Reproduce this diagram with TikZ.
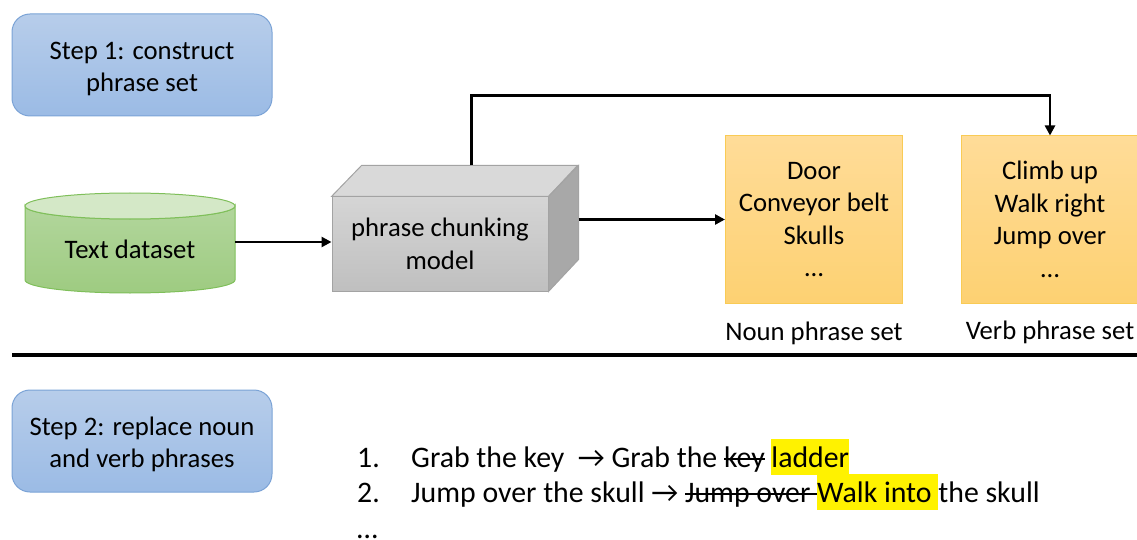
\documentclass[tikz,border=0pt]{standalone}
\usepackage{fontspec}
\setmainfont{Carlito}
\usetikzlibrary{arrows.meta,positioning,calc}

\definecolor{steptop}{HTML}{B7CDEA}
\definecolor{stepbottom}{HTML}{9BBBE5}
\definecolor{stepline}{HTML}{7BA3D6}
\definecolor{settop}{HTML}{FFDC98}
\definecolor{setbottom}{HTML}{FDD172}
\definecolor{setline}{HTML}{F9CB55}
\definecolor{cyltop}{HTML}{B2D69C}
\definecolor{cylbottom}{HTML}{9ECB81}
\definecolor{cylface}{HTML}{D4E8C7}
\definecolor{cylline}{HTML}{7FBF5A}
\definecolor{boxtop}{HTML}{D9D9D9}
\definecolor{boxside}{HTML}{A8A8A8}
\definecolor{boxline}{HTML}{A3A3A3}

% yellow highlight behind a replaced phrase
\newcommand{\marked}[1]{{\setlength{\fboxsep}{0pt}\colorbox{yellow}{\rule[-8pt]{0pt}{36pt}#1}}}
% struck-out word
\newlength{\strikelen}
\newcommand{\struck}[1]{\settowidth{\strikelen}{#1}\rlap{\rule[7pt]{\strikelen}{1.8pt}}#1}
% pushes the first line of a step label down a little
\newcommand{\topgap}{\rule{0pt}{25pt}}

\begin{document}
\begin{tikzpicture}[x=1pt,y=-1pt,
    font=\fontsize{26.7}{32.6}\selectfont,
    stepbox/.style={draw=stepline, line width=1pt, rounded corners=18pt,
        top color=steptop, bottom color=stepbottom,
        minimum width=260pt, minimum height=102pt, align=center},
    phraseset/.style={draw=setline, line width=1pt, top color=settop,
        bottom color=setbottom, minimum width=177pt, minimum height=167pt,
        align=center},
    example/.style={anchor=base west, inner sep=0pt,
        font=\fontsize{29.8}{36}\selectfont},
    conn/.style={-{Triangle[length=10pt,width=10pt]}, line width=2.8pt}]
    \useasboundingbox (0,0) rectangle (1137,540);

    % Step 1
    \node[stepbox] (step1) at (142,65) {\topgap Step 1: construct\\phrase set};

    % Text dataset cylinder
    \path[draw=cylline, line width=1pt, top color=cyltop, bottom color=cylbottom]
        (25,206) -- (25,280) arc[start angle=180, end angle=0, x radius=105, y radius=13]
        -- (235,206) arc[start angle=0, end angle=180, x radius=105, y radius=13] -- cycle;
    \draw[cylline, line width=1pt, fill=cylface] (130,206) ellipse[x radius=105, y radius=13];
    \node[minimum width=210pt, minimum height=74pt, inner sep=0pt] (data) at (130,249)
        {Text dataset};

    % Chunking model box
    \node[draw=boxline, line width=1pt, top color=gray!33, bottom color=gray!50,
        minimum width=216pt, minimum height=94pt, align=center] (chunker) at (440,244)
        {phrase chunking\\model};
    \draw[boxline, line width=1pt, fill=boxtop] (chunker.north west) -- ++(30,-31)
        -- ++(216,0) -- (chunker.north east) -- cycle;
    \draw[boxline, line width=1pt, fill=boxside] (chunker.north east) -- ++(30,-31)
        -- ++(0,94) -- (chunker.south east) -- cycle;
    \coordinate (chunkside) at ($(chunker.north east)+(30,23)$);
    \coordinate (chunktop) at ($(chunker.north west)+(140,-31)$);

    % Phrase sets
    \node[phraseset] (noun) at (814,219.5) {Door\\Conveyor belt\\Skulls\\…};
    \node[phraseset] (verb) at (1050,219.5) {Climb up\\Walk right\\Jump over\\…};
    \node[below=15pt of noun] (nounlabel) {Noun phrase set};
    \node[below=14pt of verb] (verblabel) {Verb phrase set};

    \draw[conn] ([yshift=7pt]data.east) -- ([yshift=7pt]data.east -| chunker.west);
    \draw[conn] (chunkside) -- (chunkside -| noun.west);
    \draw[conn] (chunktop) -- ++(0,-70) -| (verb.north);

    % Divider
    \draw[line width=4pt] (12,355) -- (1137,355);

    % Step 2
    \node[stepbox] (step2) at (142,441) {\topgap Step 2: replace noun\\and verb phrases};
    \node[example] (num1) at (357,467) {1.};
    \node[example] (ex1) at (411,467)
        {Grab the key\ \ → Grab the \struck{key} \marked{ladder}};
    \node[example] (num2) at (357,502) {2.};
    \node[example] (ex2) at (411,502)
        {Jump over the skull → \struck{Jump over }\marked{Walk into }the skull};
    \node[example] (more) at (357,538) {…};
\end{tikzpicture}
\end{document}
